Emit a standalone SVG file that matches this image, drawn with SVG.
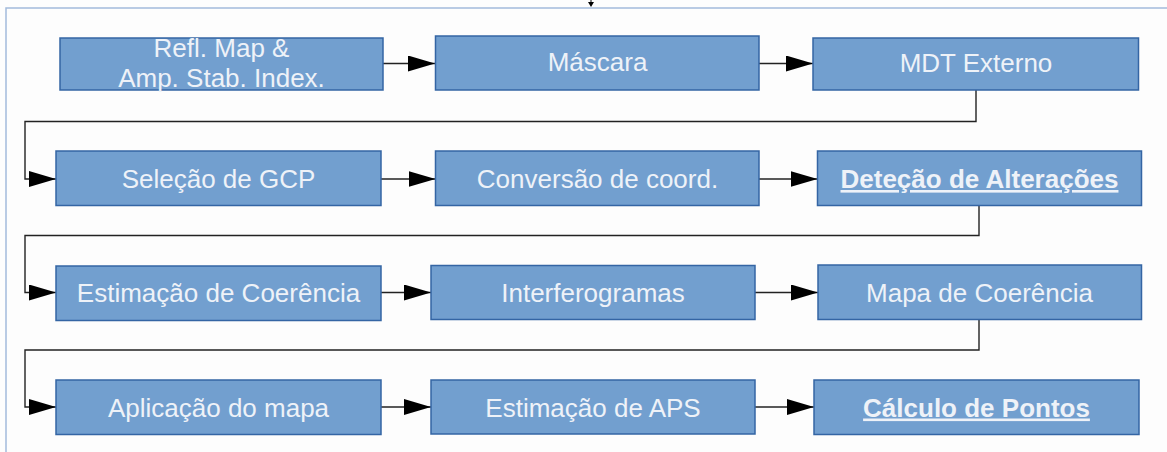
<svg xmlns="http://www.w3.org/2000/svg" width="1167" height="452" viewBox="0 0 1167 452">
  <style>
    .box { fill: #729fcf; stroke: #3465a4; stroke-width: 1.5; }
    .lbl { font-family: "Liberation Sans", Arial, sans-serif; font-size: 26px; fill: #eef2f8; text-anchor: middle; }
    .bold { font-weight: bold; text-decoration: underline; }
    .conn { fill: none; stroke: #222; stroke-width: 1.4; }
  </style>
  <defs>
    <marker id="arr" markerUnits="userSpaceOnUse" markerWidth="28" markerHeight="17" refX="27" refY="8" orient="auto">
      <path d="M0,0 L27,8 L0,16 z" fill="#000"/>
    </marker>
  </defs>
  <rect width="1167" height="452" fill="#fdfdfd"/>
  <g id="frame" fill="none" stroke="#a3bbdb" stroke-width="1.5">
    <path d="M6,452 L6,8 L1167,8"/>
  </g>
  <g id="top-arrow">
    <line x1="591" y1="0" x2="591" y2="4" stroke="#000" stroke-width="1"/>
    <path d="M588,2 L594,2 L591,7 z" fill="#000"/>
  </g>

  <g id="connectors">
    <path class="conn" d="M383,63.5 L435,63.5" marker-end="url(#arr)"/>
    <path class="conn" d="M759,63.5 L813,63.5" marker-end="url(#arr)"/>
    <path class="conn" d="M976,90 L976,121.5 L25,121.5 L25,179 L56,179" marker-end="url(#arr)"/>
    <path class="conn" d="M381,179 L435.5,179" marker-end="url(#arr)"/>
    <path class="conn" d="M759,179 L817.5,179" marker-end="url(#arr)"/>
    <path class="conn" d="M979,206 L979,235.5 L25,235.5 L25,292.5 L56,292.5" marker-end="url(#arr)"/>
    <path class="conn" d="M381,292.5 L431,292.5" marker-end="url(#arr)"/>
    <path class="conn" d="M755,292.5 L818,292.5" marker-end="url(#arr)"/>
    <path class="conn" d="M979,320 L979,350 L25,350 L25,407 L56,407" marker-end="url(#arr)"/>
    <path class="conn" d="M381,407 L431,407" marker-end="url(#arr)"/>
    <path class="conn" d="M755,407 L814,407" marker-end="url(#arr)"/>
  </g>

  <g id="n1"><rect class="box" x="60" y="38" width="323" height="52"/>
    <text class="lbl" x="221.5" y="56.5">Refl. Map &amp;</text>
    <text class="lbl" x="221.5" y="87.2">Amp. Stab. Index.</text></g>
  <g id="n2"><rect class="box" x="435.5" y="36" width="323.5" height="54"/>
    <text class="lbl" x="597.5" y="71">Máscara</text></g>
  <g id="n3"><rect class="box" x="813" y="38" width="325.5" height="52"/>
    <text class="lbl" x="976" y="72">MDT Externo</text></g>

  <g id="n4"><rect class="box" x="56" y="151" width="325" height="54.5"/>
    <text class="lbl" x="218.5" y="188">Seleção de GCP</text></g>
  <g id="n5"><rect class="box" x="435.5" y="151" width="323.5" height="54.5"/>
    <text class="lbl" x="597.5" y="188">Conversão de coord.</text></g>
  <g id="n6"><rect class="box" x="817.5" y="151" width="324" height="54.5"/>
    <text class="lbl bold" x="979.5" y="188">Deteção de Alterações</text></g>

  <g id="n7"><rect class="box" x="56" y="266" width="325" height="54.5"/>
    <text class="lbl" x="218.5" y="302">Estimação de Coerência</text></g>
  <g id="n8"><rect class="box" x="431" y="265.5" width="324" height="54"/>
    <text class="lbl" x="593" y="302">Interferogramas</text></g>
  <g id="n9"><rect class="box" x="818" y="265" width="323.5" height="54.5"/>
    <text class="lbl" x="979.5" y="301.5">Mapa de Coerência</text></g>

  <g id="n10"><rect class="box" x="56" y="380" width="325" height="54.5"/>
    <text class="lbl" x="218.5" y="416.5">Aplicação do mapa</text></g>
  <g id="n11"><rect class="box" x="431" y="380" width="324" height="54"/>
    <text class="lbl" x="593" y="416.5">Estimação de APS</text></g>
  <g id="n12"><rect class="box" x="814" y="380" width="325" height="54.5"/>
    <text class="lbl bold" x="976.5" y="416.5">Cálculo de Pontos</text></g>
</svg>
